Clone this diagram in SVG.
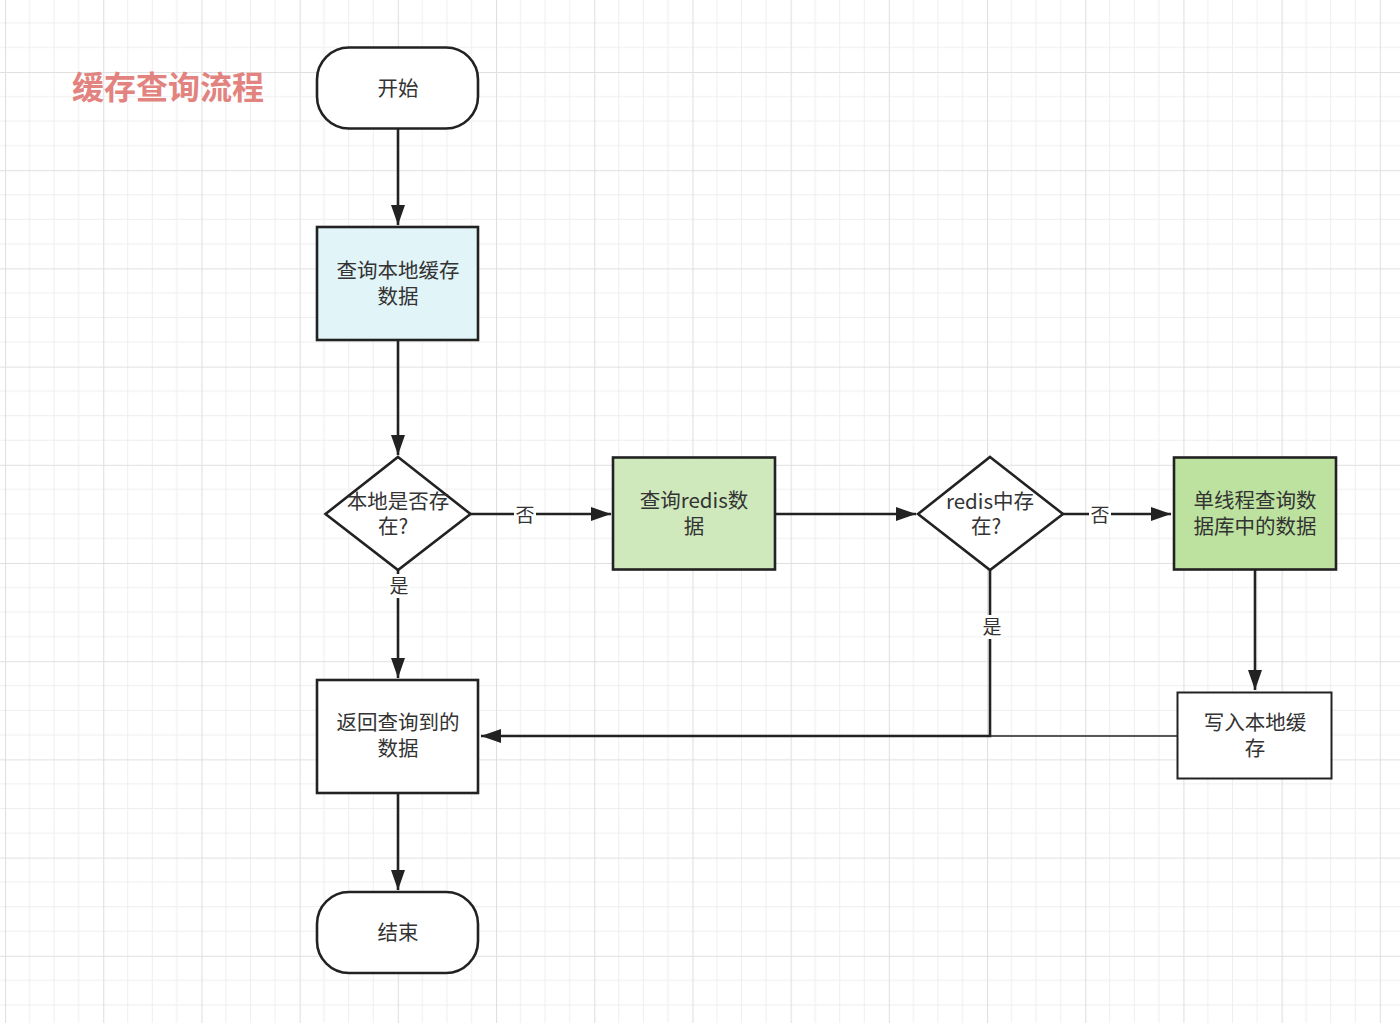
<svg xmlns="http://www.w3.org/2000/svg" width="1400" height="1023" viewBox="0 0 1400 1023">
<defs>
<pattern id="grid" patternUnits="userSpaceOnUse" x="5" y="72" width="98.2" height="98.2">
<path d="M24.55 0V98.2M49.1 0V98.2M73.65 0V98.2M0 24.55H98.2M0 49.1H98.2M0 73.65H98.2" stroke="#eeeeee" stroke-width="1" fill="none"/>
<path d="M0.5 0V98.2M0 0.5H98.2" stroke="#e0e0e0" stroke-width="1.2" fill="none"/>
</pattern>
<marker id="arr" viewBox="0 0 20 14" refX="20" refY="7" markerUnits="userSpaceOnUse" markerWidth="20" markerHeight="14" orient="auto">
<path d="M0 0L20 7L0 14Z" fill="#222"/>
</marker>
<style>
.n{stroke:#222;stroke-width:2.6;}
.t{font-family:"Noto Sans CJK SC","Liberation Sans",sans-serif;font-size:20.5px;fill:#333;text-anchor:middle;}
.l{font-family:"Noto Sans CJK SC","Liberation Sans",sans-serif;font-size:19px;fill:#333;text-anchor:middle;}
.e{fill:none;stroke:#222;stroke-width:2.6;}
</style>
</defs>
<rect width="1400" height="1023" fill="#ffffff"/>
<rect width="1400" height="1023" fill="url(#grid)"/>
<text x="168" y="99" font-family="'Noto Sans CJK SC',sans-serif" font-size="32" font-weight="bold" fill="#e2837f" text-anchor="middle">缓存查询流程</text>

<g id="connectors">
<path class="e" d="M398 129V225" marker-end="url(#arr)"/>
<path class="e" d="M398 340V455" marker-end="url(#arr)"/>
<path class="e" d="M470 514H611" marker-end="url(#arr)"/>
<rect x="514" y="503" width="22" height="24" fill="#fff"/>
<text class="l" x="525" y="522">否</text>
<path class="e" d="M398 570V678" marker-end="url(#arr)"/>
<rect x="388" y="574" width="22" height="24" fill="#fff"/>
<text class="l" x="399" y="593">是</text>
<path class="e" d="M775 514H916" marker-end="url(#arr)"/>
<path class="e" d="M1063 514H1171" marker-end="url(#arr)"/>
<rect x="1089" y="503" width="22" height="24" fill="#fff"/>
<text class="l" x="1100" y="522">否</text>
<path class="e" d="M1255 570V690" marker-end="url(#arr)"/>
<path d="M1177 736H990" fill="none" stroke="#222" stroke-width="1.6"/>
<path class="e" d="M990 570V736H481" marker-end="url(#arr)"/>
<rect x="981" y="615" width="22" height="24" fill="#fff"/>
<text class="l" x="992" y="634">是</text>
<path class="e" d="M398 793V890" marker-end="url(#arr)"/>
</g>

<g id="start">
<rect class="n" x="317" y="47.5" width="161" height="81" rx="32" fill="#fff"/>
<text class="t" x="398" y="96">开始</text>
</g>
<g id="query-local">
<rect class="n" x="317" y="227" width="161" height="113" fill="#e1f4f7"/>
<text class="t" x="398" y="278">查询本地缓存</text>
<text class="t" x="398" y="304">数据</text>
</g>
<g id="local-exists">
<path class="n" d="M398 457L470.5 514L398 570L325.5 514Z" fill="#fff"/>
<text class="t" x="398" y="509">本地是否存</text>
<text class="t" x="393" y="534">在?</text>
</g>
<g id="query-redis">
<rect class="n" x="613" y="457.5" width="162" height="112" fill="#cfe9bd"/>
<text class="t" x="694" y="508">查询redis数</text>
<text class="t" x="694" y="534">据</text>
</g>
<g id="redis-exists">
<path class="n" d="M990 457L1063 514L990 570L918 514Z" fill="#fff"/>
<text class="t" x="990" y="509">redis中存</text>
<text class="t" x="986" y="534">在?</text>
</g>
<g id="query-db">
<rect class="n" x="1174" y="457.5" width="162" height="112" fill="#bde2a0"/>
<text class="t" x="1255" y="508">单线程查询数</text>
<text class="t" x="1255" y="534">据库中的数据</text>
</g>
<g id="write-local">
<rect x="1177.5" y="692.5" width="154" height="86" fill="#fff" stroke="#222" stroke-width="2"/>
<text class="t" x="1255" y="730">写入本地缓</text>
<text class="t" x="1255" y="756">存</text>
</g>
<g id="return-data">
<rect class="n" x="317" y="680" width="161" height="113" fill="#fff"/>
<text class="t" x="398" y="730">返回查询到的</text>
<text class="t" x="398" y="756">数据</text>
</g>
<g id="end">
<rect class="n" x="317" y="892" width="161" height="81" rx="32" fill="#fff"/>
<text class="t" x="398" y="940">结束</text>
</g>
</svg>
